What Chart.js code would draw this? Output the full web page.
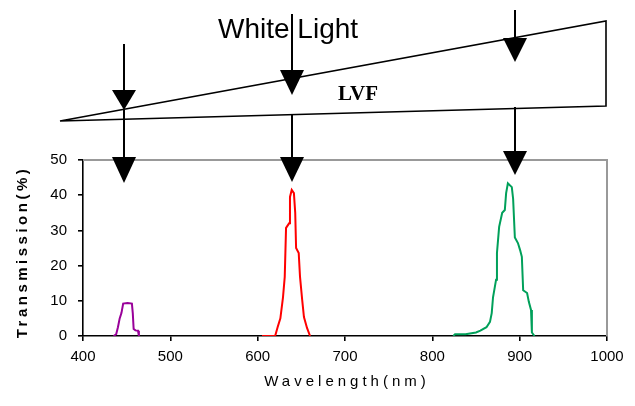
<!DOCTYPE html>
<html>
<head>
<meta charset="utf-8">
<script src="https://cdn.jsdelivr.net/npm/chart.js@4"></script>
<style>
  body { margin: 0; background: #fff; }
  canvas { display: block; }
</style>
</head>
<body>
<canvas id="myChart" width="635" height="406"></canvas>
<script>
// tick labels
const xTickValues = [400, 500, 600, 700, 800, 900, 1000];
const yTickValues = [0, 10, 20, 30, 40, 50];

// purple band (~450 nm)
const purpleNm = [435, 438, 440, 442, 444, 446, 451, 456, 457, 458, 460, 463, 464];
const purpleT = [0, 0.5, 2.5, 5, 6.5, 9.2, 9.4, 9.2, 6.5, 2, 1.6, 1.5, 0];

// red band (~640 nm)
const redNm = [605, 620, 623, 626, 629, 631, 632.5, 636, 637, 639, 641.5, 643, 644, 647, 648.5, 651, 653, 656.5, 660];
const redT = [0, 0, 2.6, 5, 11, 16.8, 30.7, 32, 39.5, 41.5, 40.6, 35, 25, 23.6, 16.8, 10.2, 5.4, 2.3, 0];

// green band (~890 nm)
const greenNm = [824, 826, 838, 850, 855, 862, 866, 868, 869.5, 873, 874, 876.5, 880, 883, 884.5, 886.5, 891, 892.5, 894.5, 898, 900.5, 902.5, 904, 908.5, 910.5, 913, 914, 917];
const greenT = [0, 0.5, 0.5, 1, 1.5, 2.5, 4, 6.5, 11, 16, 23.6, 31, 35, 35.8, 40.6, 43.4, 42.3, 39, 28, 26.4, 24.4, 22.5, 13, 12.2, 9.7, 7.4, 1, 0];

// wavelengths where the arrows point
const arrowNm = [447, 639, 895];

function toPoints(xs, ys) {
    return xs.map((x, i) => ({ x: x, y: ys[i] }));
}

function drawArrow(ctx, x, lineTop, headTop, headBottom, halfW) {
    ctx.beginPath();
    ctx.moveTo(x, lineTop);
    ctx.lineTo(x, headTop + 2);
    ctx.stroke();
    ctx.beginPath();
    ctx.moveTo(x - halfW, headTop);
    ctx.lineTo(x + halfW, headTop);
    ctx.lineTo(x, headBottom);
    ctx.closePath();
    ctx.fill();
}

// upper and lower arrow pieces: [lineTop, headTop, headBottom]
const arrowUpper = [[44, 90, 110], [14, 70, 95], [10, 38, 62]];
const arrowLower = [[110, 157, 183], [114, 157, 182], [107, 151, 175]];

const decor = {
    id: 'decor',
    afterDraw(chart) {
        const ctx = chart.ctx;
        const area = chart.chartArea;
        const xs = chart.scales.x;
        ctx.save();

        // gray top / right frame
        ctx.strokeStyle = '#999';
        ctx.lineWidth = 2;
        ctx.beginPath();
        ctx.moveTo(area.left, area.top);
        ctx.lineTo(area.right, area.top);
        ctx.lineTo(area.right, area.bottom);
        ctx.stroke();

        // LVF wedge
        ctx.strokeStyle = '#000';
        ctx.lineWidth = 1.6;
        ctx.beginPath();
        ctx.moveTo(60, 121);
        ctx.lineTo(606, 21);
        ctx.lineTo(606, 106);
        ctx.closePath();
        ctx.stroke();

        // arrows
        ctx.fillStyle = '#000';
        ctx.lineWidth = 2;
        arrowNm.forEach((nm, i) => {
            const x = Math.round(xs.getPixelForValue(nm));
            const u = arrowUpper[i];
            const l = arrowLower[i];
            drawArrow(ctx, x, u[0], u[1], u[2], 12);
            drawArrow(ctx, x, l[0], l[1], l[2], 12);
        });

        // labels
        ctx.fillStyle = '#000';
        ctx.textBaseline = 'alphabetic';
        ctx.textAlign = 'left';
        ctx.font = '28px "Liberation Sans", Arial, sans-serif';
        ctx.fillText('White Light', 218, 38);
        ctx.font = 'bold 21px "Liberation Serif", "Times New Roman", serif';
        ctx.fillText('LVF', 338, 100);

        // axis titles
        ctx.textAlign = 'center';
        ctx.textBaseline = 'middle';
        ctx.font = '15px "Liberation Sans", Arial, sans-serif';
        ctx.letterSpacing = '4px';
        ctx.fillText('Wavelength(nm)', (area.left + area.right) / 2 + 2, 382);

        ctx.font = 'bold 15px "Liberation Sans", Arial, sans-serif';
        ctx.letterSpacing = '3.5px';
        ctx.translate(23, (area.top + area.bottom) / 2 + 4);
        ctx.rotate(-Math.PI / 2);
        ctx.fillText('Transmission(%)', 0, 0);
        ctx.letterSpacing = '0px';

        ctx.restore();
    }
};

const tickFont = { family: '"Liberation Sans", Arial, sans-serif', size: 15 };

const ctx = document.getElementById('myChart').getContext('2d');
const chart = new Chart(ctx, {
    type: 'line',
    data: {
        datasets: [
            { data: toPoints(purpleNm, purpleT), borderColor: '#990099' },
            { data: toPoints(redNm, redT), borderColor: '#ff0000' },
            { data: toPoints(greenNm, greenT), borderColor: '#00a05a' }
        ]
    },
    options: {
        responsive: false,
        devicePixelRatio: 1,
        animation: false,
        layout: { padding: { top: 160, right: 28, left: 0, bottom: 0 } },
        elements: {
            point: { radius: 0 },
            line: { borderWidth: 2, tension: 0 }
        },
        plugins: {
            legend: { display: false },
            tooltip: { enabled: false }
        },
        scales: {
            x: {
                type: 'linear',
                min: 400,
                max: 1000,
                afterBuildTicks: s => { s.ticks = xTickValues.map(v => ({ value: v })); },
                afterFit: s => { s.height = 70; },
                border: { color: '#000', width: 1.6 },
                grid: { drawOnChartArea: false, tickLength: 5, color: '#000', lineWidth: 1.6 },
                ticks: { font: tickFont, color: '#000', padding: 7, maxRotation: 0, autoSkip: false, callback: v => String(v) }
            },
            y: {
                min: 0,
                max: 50,
                afterBuildTicks: s => { s.ticks = yTickValues.map(v => ({ value: v })); },
                afterFit: s => { s.width = 83; },
                border: { color: '#000', width: 1.6 },
                grid: { drawOnChartArea: false, tickLength: 5, color: '#000', lineWidth: 1.6 },
                ticks: { font: tickFont, color: '#000', padding: 11, callback: v => String(v) }
            }
        }
    },
    plugins: [decor]
});
</script>
</body>
</html>
